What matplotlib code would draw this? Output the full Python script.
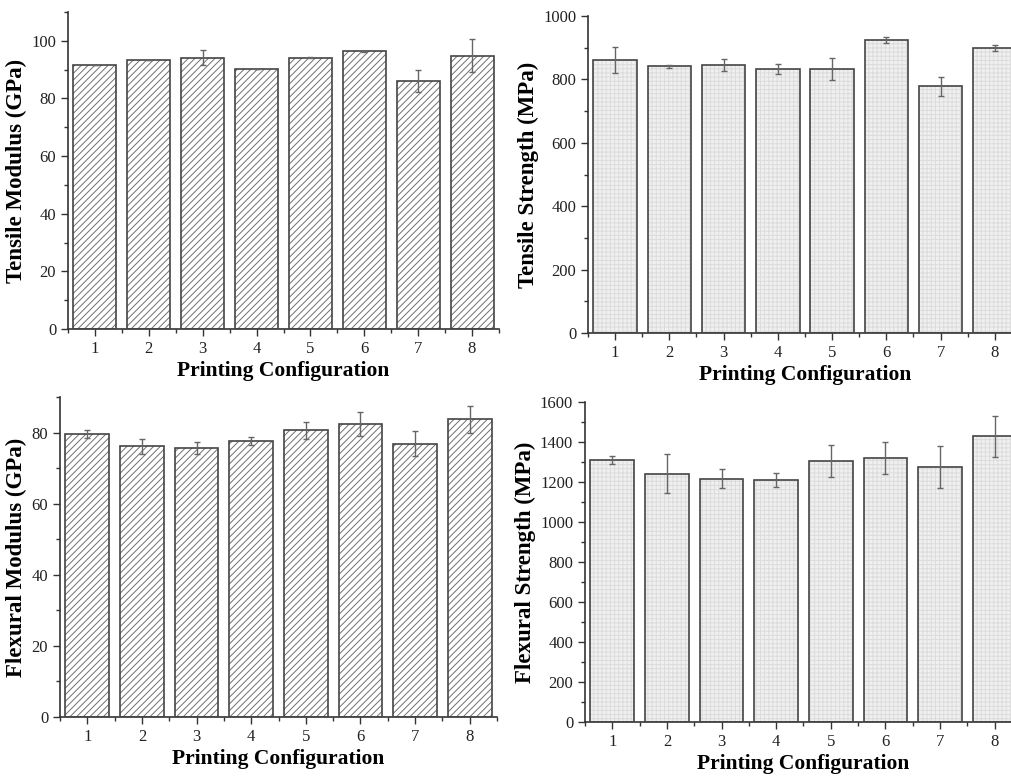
import matplotlib
matplotlib.use("Agg")
import matplotlib.pyplot as plt
from matplotlib.ticker import MultipleLocator
import numpy as np

configs = [1, 2, 3, 4, 5, 6, 7, 8]

tensile_modulus = [91.6, 93.4, 94.2, 90.2, 94.2, 96.4, 86.1, 94.8]
tensile_modulus_err = [0.1, 0.1, 2.7, 0.1, 0.2, 0.2, 3.9, 5.7]

tensile_strength = [861, 841, 846, 833, 832, 925, 779, 899]
tensile_strength_err = [42, 6, 18, 15, 35, 9, 30, 10]

flexural_modulus = [79.6, 76.1, 75.6, 77.6, 80.7, 82.5, 76.9, 83.7]
flexural_modulus_err = [1.0, 2.0, 1.7, 1.1, 2.4, 3.4, 3.4, 3.7]

flexural_strength = [1309, 1241, 1217, 1211, 1304, 1321, 1276, 1429]
flexural_strength_err = [21, 97, 49, 35, 79, 80, 106, 103]

plt.rcParams['font.family'] = ['Liberation Serif', 'DejaVu Serif']
plt.rcParams['hatch.linewidth'] = 0.7

fig = plt.figure(figsize=(10.12, 7.76), dpi=100)

W, H = 1012, 776
def pos(l, r, t, b):
    return [l / W, 1 - b / H, (r - l) / W, (b - t) / H]

panels = [
    dict(rect=pos(68, 499, 12, 329), vals=tensile_modulus, err=tensile_modulus_err,
         ylim=110, major=20, label='Tensile Modulus (GPa)', style='hatch'),
    dict(rect=pos(588, 1022, 16, 333), vals=tensile_strength, err=tensile_strength_err,
         ylim=1000, major=200, label='Tensile Strength (MPa)', style='grid'),
    dict(rect=pos(60, 497, 397, 717), vals=flexural_modulus, err=flexural_modulus_err,
         ylim=90, major=20, label='Flexural Modulus (GPa)', style='hatch'),
    dict(rect=pos(585, 1022, 402, 722), vals=flexural_strength, err=flexural_strength_err,
         ylim=1600, major=200, label='Flexural Strength (MPa)', style='grid'),
]

for p in panels:
    ax = fig.add_axes(p['rect'])
    if p['style'] == 'hatch':
        ax.bar(configs, p['vals'], width=0.8, facecolor='white',
               edgecolor='#707070', hatch='/////', linewidth=0, zorder=2)
    else:
        ax.bar(configs, p['vals'], width=0.8, facecolor='#f0f0f0',
               edgecolor='#dcdcdc', hatch='++++', linewidth=0, zorder=2)
    ax.bar(configs, p['vals'], width=0.8, facecolor='none',
           edgecolor='#444444', linewidth=1.2, zorder=3)
    ax.errorbar(configs, p['vals'], yerr=p['err'], fmt='none', ecolor='#666666',
                elinewidth=1.0, capsize=2.5, capthick=1.0, zorder=4)
    ax.set_xlim(0.5, 8.5)
    ax.set_ylim(0, p['ylim'])
    ax.set_xticks(configs)
    ax.set_xticks(np.arange(0.5, 9, 1), minor=True)
    ax.yaxis.set_major_locator(MultipleLocator(p['major']))
    ax.yaxis.set_minor_locator(MultipleLocator(p['major'] / 2))
    for s in ['top', 'right']:
        ax.spines[s].set_visible(False)
    for s in ['left', 'bottom']:
        ax.spines[s].set_color('#333333')
        ax.spines[s].set_linewidth(1.2)
    ax.tick_params(which='major', direction='out', length=5, width=1.0,
                   color='#333333', labelsize=12, labelcolor='#222222')
    ax.tick_params(which='minor', direction='out', length=3, width=1.0, color='#333333')
    ax.set_xlabel('Printing Configuration', fontsize=15.5, fontweight='bold', labelpad=3)
    ax.set_ylabel(p['label'], fontsize=16.5, fontweight='bold', labelpad=3)

fig.savefig('out.png', dpi=100)
